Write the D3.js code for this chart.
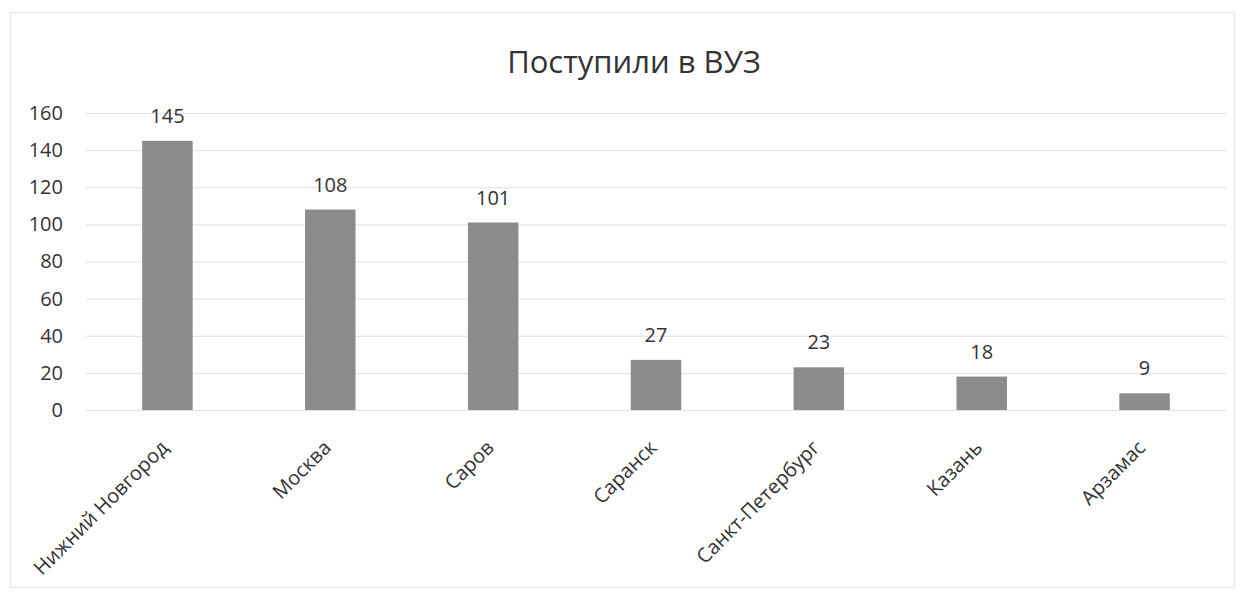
<!DOCTYPE html>
<html>
<head>
<meta charset="utf-8">
<script src="https://cdn.jsdelivr.net/npm/d3@7"></script>
<style>
  body { margin: 0; background: #fff; }
  text { font-family: "Open Sans", "Noto Sans", sans-serif; fill: #333; }
</style>
</head>
<body>
<svg id="chart" width="1244" height="592"></svg>
<script>
var cities = ['Нижний Новгород', 'Москва', 'Саров', 'Саранск', 'Санкт-Петербург', 'Казань', 'Арзамас'];
var admitted = [145, 108, 101, 27, 23, 18, 9];
var yTicks = [0, 20, 40, 60, 80, 100, 120, 140, 160];
var title = 'Поступили в ВУЗ';

var svg = d3.select('#chart');
var plotLeft = 86, plotRight = 1226, plotTop = 113, plotBottom = 410;

// chart frame
svg.append('rect')
  .attr('x', 10.5).attr('y', 12.5)
  .attr('width', 1224).attr('height', 575)
  .attr('fill', 'none')
  .attr('stroke', '#e6e6e6');

var xScale = d3.scaleBand()
  .domain(cities)
  .range([plotLeft, plotRight])
  .paddingInner(0.69)
  .paddingOuter(0.345);

var yScale = d3.scaleLinear()
  .domain([0, 160])
  .range([plotBottom, plotTop]);

// gridlines
svg.append('g')
  .selectAll('line')
  .data(yTicks)
  .enter()
  .append('line')
    .attr('x1', plotLeft).attr('x2', plotRight)
    .attr('y1', d => yScale(d) + 0.5)
    .attr('y2', d => yScale(d) + 0.5)
    .attr('stroke', '#e0e0e0');

var yAxis = d3.axisLeft(yScale).tickValues(yTicks).tickSize(0).tickPadding(0);
svg.append('g')
  .attr('transform', 'translate(63, 0)')
  .call(yAxis)
  .call(g => g.select('.domain').remove())
  .selectAll('text')
    .style('font-size', '20px')
    .attr('fill', '#333');

svg.append('g')
  .selectAll('.bar')
  .data(admitted)
  .enter()
  .append('rect')
    .classed('bar', true)
    .attr('x', (d, i) => xScale(cities[i]))
    .attr('y', d => yScale(d))
    .attr('width', xScale.bandwidth())
    .attr('height', d => plotBottom - yScale(d))
    .attr('fill', '#8c8c8c');

// data labels
svg.append('g')
  .selectAll('text')
  .data(admitted)
  .enter()
  .append('text')
    .attr('x', (d, i) => xScale(cities[i]) + xScale.bandwidth() / 2)
    .attr('y', d => yScale(d) - 18)
    .attr('text-anchor', 'middle')
    .style('font-size', '20px')
    .text(d => d);

var xAxis = d3.axisBottom(xScale).tickSize(0).tickPadding(0);
svg.append('g')
  .attr('transform', `translate(0, ${plotBottom})`)
  .call(xAxis)
  .call(g => g.select('.domain').remove())
  .selectAll('text')
    .style('font-size', '20px')
    .attr('fill', '#333')
    .attr('text-anchor', 'end')
    .attr('dy', '0.35em')
    .attr('transform', 'translate(-3, 34) rotate(-45)');

svg.append('text')
  .attr('x', 634)
  .attr('y', 73)
  .attr('text-anchor', 'middle')
  .style('font-size', '31px')
  .text(title);
</script>
</body>
</html>
